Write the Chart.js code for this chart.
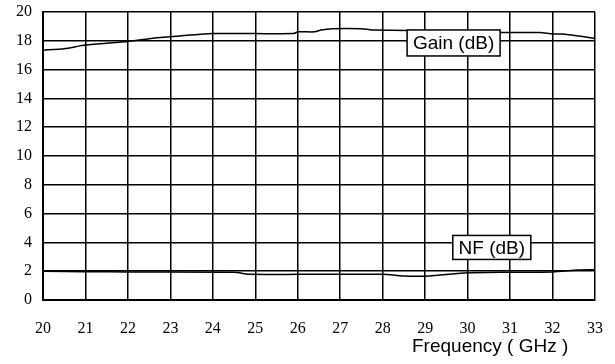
<!DOCTYPE html>
<html>
<head>
<meta charset="utf-8">
<script src="https://cdn.jsdelivr.net/npm/chart.js@4.4.1/dist/chart.umd.min.js"></script>
<style>
  html, body { margin: 0; padding: 0; background: #fff; }
  #wrap { width: 615px; height: 364px; position: relative; }
</style>
</head>
<body>
<div id="wrap"><canvas id="ampChart"></canvas></div>
<script>
// Gain curve (GHz, dB)
const gainFreq = [20, 20.5, 21, 22, 22.5, 23, 24, 25, 25.9, 26, 26.4, 26.55, 26.8, 27.5, 27.75, 29.5, 29.75, 31.7, 32, 32.25, 33];
const gainDb   = [17.35, 17.45, 17.7, 17.95, 18.15, 18.28, 18.5, 18.5, 18.5, 18.62, 18.62, 18.75, 18.84, 18.84, 18.75, 18.68, 18.58, 18.58, 18.47, 18.47, 18.17];

// Noise figure curve
const nfFreq = [20, 21, 22, 24.5, 24.9, 26, 28, 28.25, 28.5, 29.1, 29.9, 30.8, 32, 32.6, 33];
const nfDb   = [2.0, 1.97, 1.94, 1.92, 1.78, 1.78, 1.78, 1.74, 1.66, 1.67, 1.88, 1.93, 1.95, 2.08, 2.1];

const xTicks = [20, 21, 22, 23, 24, 25, 26, 27, 28, 29, 30, 31, 32, 33];
const yTicks = [0, 2, 4, 6, 8, 10, 12, 14, 16, 18, 20];

const lineColor = '#000000';
const serifFont = "'Liberation Serif', 'Times New Roman', serif";
const sansFont = "'Liberation Sans', Arial, sans-serif";

function toPoints(xs, ys) {
    return xs.map((x, i) => ({ x: x, y: ys[i] }));
}

// Boxed curve labels and the axis caption
const labelPlugin = {
    id: 'curveLabels',
    afterDraw(chart) {
        const ctx = chart.ctx;
        const xs = chart.scales.x;
        const ys = chart.scales.y;
        const boxes = [
            { text: 'Gain (dB)', x: 29.67, y: 17.85, w: 93, h: 26 },
            { text: 'NF (dB)', x: 30.57, y: 3.65, w: 78, h: 24 }
        ];
        ctx.save();
        ctx.font = '19px ' + sansFont;
        ctx.textAlign = 'center';
        ctx.textBaseline = 'middle';
        boxes.forEach(b => {
            const cx = xs.getPixelForValue(b.x);
            const cy = ys.getPixelForValue(b.y);
            ctx.fillStyle = '#fff';
            ctx.fillRect(cx - b.w / 2, cy - b.h / 2, b.w, b.h);
            ctx.strokeStyle = '#000';
            ctx.lineWidth = 1.5;
            ctx.strokeRect(cx - b.w / 2, cy - b.h / 2, b.w, b.h);
            ctx.fillStyle = '#000';
            ctx.fillText(b.text, cx, cy + 1);
        });
        ctx.textAlign = 'left';
        ctx.textBaseline = 'alphabetic';
        ctx.fillText('Frequency ( GHz )', 412, 352);
        ctx.restore();
    }
};

const ctx = document.getElementById('ampChart').getContext('2d');
new Chart(ctx, {
    type: 'line',
    data: {
        datasets: [
            {
                label: 'Gain (dB)',
                data: toPoints(gainFreq, gainDb),
                borderColor: lineColor,
                borderWidth: 1.5,
                pointRadius: 0,
                tension: 0.2
            },
            {
                label: 'NF (dB)',
                data: toPoints(nfFreq, nfDb),
                borderColor: lineColor,
                borderWidth: 1.5,
                pointRadius: 0,
                tension: 0.2
            }
        ]
    },
    options: {
        responsive: true,
        maintainAspectRatio: false,
        animation: false,
        layout: { padding: { left: 0, top: 12, right: 20, bottom: 0 } },
        plugins: {
            legend: { display: false },
            tooltip: { enabled: false }
        },
        scales: {
            x: {
                type: 'linear',
                min: 20,
                max: 33,
                afterFit: scale => {
                    scale.height = 64;
                    scale.paddingLeft = 0;
                    scale.paddingRight = 0;
                },
                afterBuildTicks: scale => { scale.ticks = xTicks.map(v => ({ value: v })); },
                ticks: {
                    color: '#000',
                    padding: 19,
                    maxRotation: 0,
                    font: { family: serifFont, size: 16 }
                },
                grid: { color: '#000', lineWidth: 1.5, drawTicks: false },
                border: { color: '#000', width: 2 }
            },
            y: {
                min: 0,
                max: 20,
                afterFit: scale => {
                    scale.width = 43;
                    scale.paddingTop = 0;
                    scale.paddingBottom = 0;
                },
                afterBuildTicks: scale => { scale.ticks = yTicks.map(v => ({ value: v })); },
                ticks: {
                    color: '#000',
                    padding: 11,
                    font: { family: serifFont, size: 16 }
                },
                grid: { color: '#000', lineWidth: 1.5, drawTicks: false },
                border: { color: '#000', width: 2 }
            }
        }
    },
    plugins: [labelPlugin]
});
</script>
</body>
</html>
